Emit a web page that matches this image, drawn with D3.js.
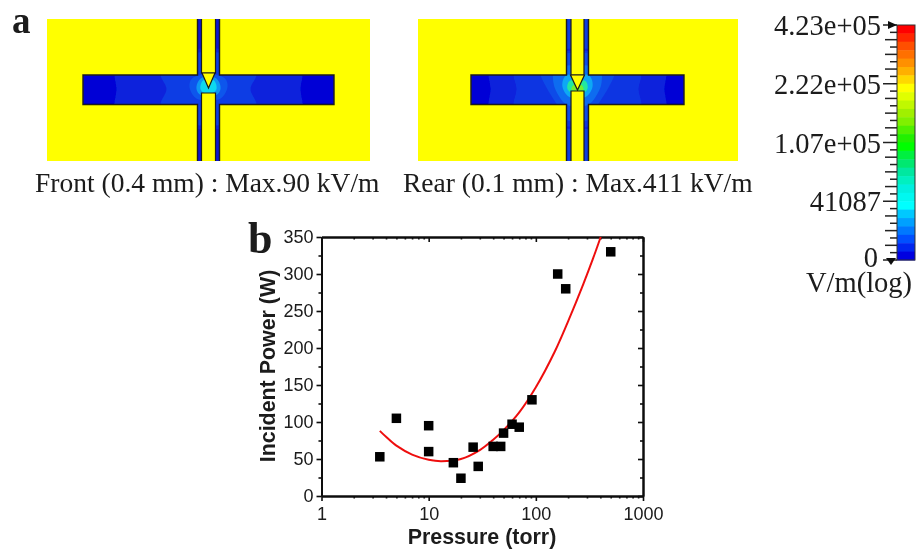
<!DOCTYPE html>
<html>
<head>
<meta charset="utf-8">
<script src="https://cdnjs.cloudflare.com/ajax/libs/d3/7.8.5/d3.min.js"></script>
<style>
  html, body { margin: 0; padding: 0; background: #fff; }
  svg { display: block; }
  .serif { font-family: "Liberation Serif", serif; fill: #1a1a1a; }
  .sans { font-family: "Liberation Sans", sans-serif; fill: #1a1a1a; }
</style>
</head>
<body>
<div id="chart"></div>
<script>
// scatter data, panel b
var pressure = [3.5, 5, 10, 10, 17, 20, 26, 29, 40, 47, 50, 60, 70, 92, 160, 190, 500];
var power = [53, 105, 95, 60, 45, 24, 66, 40, 67, 67, 85, 97, 93, 130, 300, 280, 330];

// fit curve
var fitPressure = [3.5, 4, 5, 7, 10, 13, 20, 30, 40, 50, 70, 100, 150, 200, 275, 340, 403];
var fitPower = [88, 80, 68, 56, 49, 47, 50, 62, 76, 89, 113, 147, 195, 236, 285, 320, 350];

var xTicks = [1, 10, 100, 1000];
var xMinorTicks = [2, 3, 4, 5, 6, 7, 8, 9, 20, 30, 40, 50, 60, 70, 80, 90, 200, 300, 400, 500, 600, 700, 800, 900];
var yTicks = [0, 50, 100, 150, 200, 250, 300, 350];
var yMinorTicks = [25, 75, 125, 175, 225, 275, 325];

// colour bar, top band first
var barColors = ["#ff0000", "#ff2800", "#ff5000", "#ff7000", "#ff9000", "#ffb000", "#ffd800", "#ffff00",
  "#e0ff00", "#c0f800", "#a0f000", "#80f000", "#50f000", "#20f000", "#00ff00",
  "#00f040", "#00e870", "#00e8a0", "#00f0c0", "#00f0e0", "#00f8f0", "#00ffff",
  "#00c8ff", "#00a0ff", "#0078ff", "#0050ff", "#0028f0", "#0000e0"];
var barLabels = ["4.23e+05", "2.22e+05", "1.07e+05", "41087", "0"];
var barTickCount = 33;

// field panels, local units: x from the gap centre, y from the top of the frame
var frontFrame = [-161.5, 161.5];
var frontCavity = [-125.5, 125.5];
var frontChannel = [-11, 11];
var frontPin = [-7, 7];
var frontCone = [[-6.5, 54], [6.5, 54], [0, 69]];
var frontPinTop = 74;
var frontStrip = "#0a14d0";
var frontBands = [
  { color: "#0a24dc", pts: [[-92, 40], [-94, 56], [-92, 70], [-94, 85], [-92, 100], [92, 100], [94, 85], [92, 70], [94, 56], [92, 40]] },
  { color: "#0a3ce4", pts: [[-46, 40], [-48, 56], [-42, 70], [-48, 85], [-46, 100], [46, 100], [48, 85], [42, 70], [48, 56], [46, 40]] },
  { color: "#0a56ec", pts: [[-17, 60], [-19, 68], [-14, 78], [-8, 81], [8, 81], [14, 78], [19, 68], [17, 60], [8, 56], [-8, 56]] },
  { color: "#0a96f4", pts: [[-10, 62], [-12, 70], [-8, 76], [8, 76], [12, 70], [10, 62], [5, 58], [-5, 58]] },
  { color: "#10d8f0", pts: [[-6, 62], [-8, 70], [-4, 74], [4, 74], [8, 70], [6, 62], [0, 60]] }
];

var rearFrame = [-159.5, 160.5];
var rearCavity = [-106.5, 106.5];
var rearChannel = [-11, 11];
var rearPin = [-6.5, 6.5];
var rearCone = [[-7, 56], [7, 56], [0, 71]];
var rearPinTop = 72;
var rearStrip = "#0a3ce0";
var rearBands = [
  { color: "#0a20dc", pts: [[-88, 40], [-89, 56], [-87, 70], [-89, 85], [-88, 100], [88, 100], [89, 85], [87, 70], [89, 56], [88, 40]] },
  { color: "#0a36e2", pts: [[-62, 40], [-64, 56], [-61, 70], [-64, 85], [-62, 100], [62, 100], [64, 85], [61, 70], [64, 56], [62, 40]] },
  { color: "#0a4ce8", pts: [[-40, 40], [-37, 56], [-29, 72], [-19, 88], [-14, 100], [14, 100], [19, 88], [29, 72], [37, 56], [40, 40]] },
  { color: "#0a6cf0", pts: [[-22, 50], [-24, 64], [-18, 78], [-10, 86], [10, 86], [18, 78], [24, 64], [22, 50]] },
  { color: "#0fa8f4", pts: [[-13, 58], [-15, 68], [-8, 78], [8, 78], [15, 68], [13, 58], [7, 55], [-7, 55]] },
  { color: "#20e8a0", pts: [[-8, 62], [-10, 70], [-5, 74], [5, 74], [10, 70], [8, 62]] },
  { color: "#70f030", pts: [[-4, 66], [-6, 71], [6, 71], [4, 66]] }
];

var width = 916,
  height = 549;

var svg = d3.select("#chart")
  .append("svg")
  .attr("width", width)
  .attr("height", height);

var soft = svg.append("defs").append("filter").attr("id", "soft");
soft.append("feGaussianBlur").attr("stdDeviation", 0.5);

var root = svg.append("g").attr("filter", "url(#soft)");

var smoothBand = d3.line().curve(d3.curveCatmullRomClosed.alpha(0.5));

function drawPanel(id, centerX, frame, cavity, channel, pin, cone, pinTop, strip, bands) {
  var x = d3.scaleLinear().domain([0, 1]).range([centerX, centerX + 1]);
  var y = d3.scaleLinear().domain([0, 142]).range([19, 161]);
  var g = root.append("g");
  var cavityTop = 56, cavityBottom = 85.5;
  var left = channel[0], right = channel[1];

  // outline of the cross shaped gap, runs past the frame so its ends get clipped
  var cross = [
    [left, -4], [right, -4], [right, cavityTop], [cavity[1], cavityTop], [cavity[1], cavityBottom],
    [right, cavityBottom], [right, 146], [left, 146], [left, cavityBottom], [cavity[0], cavityBottom],
    [cavity[0], cavityTop], [left, cavityTop]
  ];
  var toPath = d3.line().x(function(d) { return x(d[0]) }).y(function(d) { return y(d[1]) });

  g.append("clipPath").attr("id", id + "Frame")
    .append("rect")
    .attr("x", x(frame[0]))
    .attr("y", y(0))
    .attr("width", x(frame[1]) - x(frame[0]))
    .attr("height", y(142) - y(0));

  var framed = g.append("g").attr("clip-path", "url(#" + id + "Frame)");

  framed.append("rect")
    .attr("x", x(frame[0]))
    .attr("y", y(0))
    .attr("width", x(frame[1]) - x(frame[0]))
    .attr("height", y(142) - y(0))
    .attr("fill", "#ffff00");

  g.append("clipPath").attr("id", id)
    .append("path").attr("d", toPath(cross) + "Z");

  var inner = framed.append("g").attr("clip-path", "url(#" + id + ")");
  inner.append("path").attr("d", toPath(cross) + "Z").attr("fill", "#0000d6");

  inner.append("rect")
    .attr("x", x(left)).attr("y", y(-4))
    .attr("width", x(right) - x(left)).attr("height", y(146) - y(-4))
    .attr("fill", strip);

  // field bands, weakest first
  bands.forEach(function(band) {
    inner.append("path")
      .attr("d", smoothBand(band.pts.map(function(p) { return [x(p[0]), y(p[1])] })))
      .attr("fill", band.color);
  });

  framed.append("path")
    .attr("d", toPath(cross) + "Z")
    .attr("fill", "none")
    .attr("stroke", "#1a1a1a")
    .attr("stroke-width", 1.4);

  // upper pin, cone and lower pin
  framed.append("rect")
    .attr("x", x(pin[0])).attr("y", y(-4))
    .attr("width", x(pin[1]) - x(pin[0])).attr("height", y(cone[0][1]) - y(-4))
    .attr("fill", "#ffff00");
  framed.append("path")
    .attr("d", toPath([[pin[0], -4], [pin[0], cone[0][1]], [pin[1], cone[0][1]], [pin[1], -4]]))
    .attr("fill", "none").attr("stroke", "#1a1a1a").attr("stroke-width", 1.2);
  framed.append("path")
    .attr("d", toPath(cone) + "Z")
    .attr("fill", "#ffff00").attr("stroke", "#1a1a1a").attr("stroke-width", 1.2);
  framed.append("rect")
    .attr("x", x(pin[0])).attr("y", y(pinTop))
    .attr("width", x(pin[1]) - x(pin[0])).attr("height", y(146) - y(pinTop))
    .attr("fill", "#ffff00");
  framed.append("path")
    .attr("d", toPath([[pin[0], 146], [pin[0], pinTop], [pin[1], pinTop], [pin[1], 146]]))
    .attr("fill", "none").attr("stroke", "#1a1a1a").attr("stroke-width", 1.2);
}

drawPanel("frontClip", 208.5, frontFrame, frontCavity, frontChannel, frontPin, frontCone, frontPinTop, frontStrip, frontBands);
drawPanel("rearClip", 577.5, rearFrame, rearCavity, rearChannel, rearPin, rearCone, rearPinTop, rearStrip, rearBands);

root.append("text").attr("class", "serif").attr("x", 35).attr("y", 192)
  .style("font-size", "27.5px").text("Front (0.4 mm) : Max.90 kV/m");
root.append("text").attr("class", "serif").attr("x", 403).attr("y", 192)
  .style("font-size", "27.5px").text("Rear (0.1 mm) : Max.411 kV/m");

root.append("text").attr("class", "serif").attr("x", 12).attr("y", 33)
  .style("font-size", "37px").style("font-weight", "bold").text("a");
root.append("text").attr("class", "serif").attr("x", 248).attr("y", 253)
  .style("font-size", "44px").style("font-weight", "bold").text("b");

// colour bar
var barY = d3.scaleBand().domain(d3.range(barColors.length)).range([25, 260]);
var bar = root.append("g");
bar.selectAll("rect.band")
  .data(barColors)
  .enter().append("rect")
  .attr("class", "band")
  .attr("x", 897)
  .attr("y", function(d, i) { return barY(i) })
  .attr("width", 18)
  .attr("height", barY.bandwidth() + 0.5)
  .attr("fill", function(d) { return d });
bar.append("rect")
  .attr("x", 897).attr("y", 25).attr("width", 18).attr("height", 235)
  .attr("fill", "none").attr("stroke", "#333").attr("stroke-width", 1);

var barTick = d3.scalePoint().domain(d3.range(barTickCount)).range([25, 260]);
bar.selectAll("line.tick")
  .data(d3.range(barTickCount))
  .enter().append("line")
  .attr("class", "tick")
  .attr("x1", function(d) {
    if (d % 8 === 0) return 883;
    return d % 2 === 0 ? 885 : 890;
  })
  .attr("x2", 897)
  .attr("y1", function(d) { return barTick(d) })
  .attr("y2", function(d) { return barTick(d) })
  .attr("stroke", "#222")
  .attr("stroke-width", 1.5);

bar.append("path")
  .attr("d", d3.line()([[888, 21], [897, 25], [888, 29]]) + "Z")
  .attr("fill", "#111");
bar.append("path")
  .attr("d", d3.line()([[886, 258], [896, 258], [891, 265]]) + "Z")
  .attr("fill", "#111");

bar.selectAll("text.barlabel")
  .data(barLabels)
  .enter().append("text")
  .attr("class", "barlabel serif")
  .attr("x", function(d, i) { return i === 4 ? 878 : 881 })
  .attr("y", function(d, i) { return barTick(i * 8) + (i === 4 ? 7 : 10) })
  .attr("text-anchor", "end")
  .style("font-size", "28.5px")
  .text(function(d) { return d });

bar.append("text").attr("class", "serif").attr("x", 806).attr("y", 292)
  .style("font-size", "28.5px").text("V/m(log)");

// panel b
var x = d3.scaleLog().domain([1, 1000]).range([321.5, 643]);
var y = d3.scaleLinear().domain([0, 350]).range([496, 237]);
var plot = root.append("g");

function styleAxis(g) {
  g.selectAll("path").attr("stroke", "#111").attr("stroke-width", 2);
  g.selectAll("line").attr("stroke", "#111").attr("stroke-width", 1.6);
}

function clearLabels(axis) {
  return axis.tickFormat("").tickSizeOuter(0);
}

plot.append("g").attr("transform", "translate(0,496)")
  .call(clearLabels(d3.axisBottom(x).tickValues(xMinorTicks).tickSize(2.5))).call(styleAxis);
plot.append("g").attr("transform", "translate(0,237)")
  .call(clearLabels(d3.axisBottom(x).tickValues(xMinorTicks).tickSize(2.5))).call(styleAxis);
plot.append("g").attr("transform", "translate(321.5,0)")
  .call(clearLabels(d3.axisLeft(y).tickValues(yMinorTicks).tickSize(3))).call(styleAxis);
plot.append("g").attr("transform", "translate(643,0)")
  .call(clearLabels(d3.axisLeft(y).tickValues(yMinorTicks).tickSize(3))).call(styleAxis);

var xAxis = plot.append("g").attr("transform", "translate(0,496)")
  .call(d3.axisBottom(x).tickValues(xTicks).tickFormat(d3.format("d")).tickSize(5).tickSizeOuter(0).tickPadding(6))
  .call(styleAxis);
var yAxis = plot.append("g").attr("transform", "translate(321.5,0)")
  .call(d3.axisLeft(y).tickValues(yTicks).tickSize(5).tickSizeOuter(0).tickPadding(3))
  .call(styleAxis);
plot.append("g").attr("transform", "translate(0,237)")
  .call(clearLabels(d3.axisBottom(x).tickValues(xTicks).tickSize(5))).call(styleAxis);
plot.append("g").attr("transform", "translate(643,0)")
  .call(clearLabels(d3.axisLeft(y).tickValues(yTicks).tickSize(5))).call(styleAxis);

[xAxis, yAxis].forEach(function(axis) {
  axis.selectAll("text")
    .attr("class", "sans")
    .style("font-family", '"Liberation Sans", sans-serif')
    .style("font-size", "18px")
    .attr("fill", "#1a1a1a");
});

var fitLine = d3.line()
  .x(function(d) { return x(d[0]) })
  .y(function(d) { return y(d[1]) })
  .curve(d3.curveCatmullRom.alpha(0.5));

plot.append("path")
  .attr("d", fitLine(d3.zip(fitPressure, fitPower)))
  .attr("fill", "none")
  .attr("stroke", "#ee1111")
  .attr("stroke-width", 2);

var squareSize = 9.5;
plot.selectAll("rect.point")
  .data(d3.zip(pressure, power))
  .enter().append("rect")
  .attr("class", "point")
  .attr("x", function(d) { return x(d[0]) - squareSize / 2 })
  .attr("y", function(d) { return y(d[1]) - squareSize / 2 })
  .attr("width", squareSize)
  .attr("height", squareSize)
  .attr("fill", "#000");

plot.append("text").attr("class", "sans")
  .attr("x", 482).attr("y", 544)
  .attr("text-anchor", "middle")
  .style("font-size", "21.4px").style("font-weight", "bold")
  .text("Pressure (torr)");

plot.append("text").attr("class", "sans")
  .attr("transform", "translate(275,366) rotate(-90)")
  .attr("text-anchor", "middle")
  .style("font-size", "21.4px").style("font-weight", "bold")
  .text("Incident Power (W)");
</script>
</body>
</html>
